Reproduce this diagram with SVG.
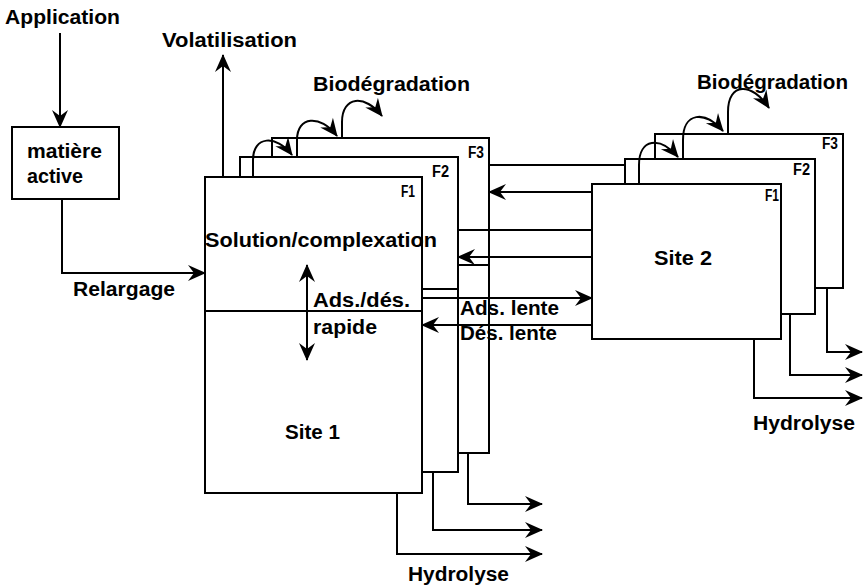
<svg xmlns="http://www.w3.org/2000/svg" width="863" height="588" viewBox="0 0 863 588">
<style>
  .box { fill: #fff; stroke: #000; stroke-width: 2; }
  .ln { fill: none; stroke: #000; stroke-width: 2; }
  .arr { fill: none; stroke: #000; stroke-width: 2; marker-end: url(#ah); }
  .dbl { fill: none; stroke: #000; stroke-width: 2; marker-start: url(#ahs); marker-end: url(#ah); }
  text { font-family: "Liberation Sans", Arial, sans-serif; font-weight: bold; fill: #000; }
  .t { font-size: 20px; }
  .f { font-size: 16px; }
</style>
<defs>
  <marker id="ah" markerUnits="userSpaceOnUse" markerWidth="22" markerHeight="20" viewBox="-20 -10 22 20" refX="0" refY="0" orient="auto">
    <path d="M1,0 L-17,-8 L-11,0 L-17,8 Z" fill="#000"/>
  </marker>
  <marker id="ahs" markerUnits="userSpaceOnUse" markerWidth="22" markerHeight="20" viewBox="-2 -10 22 20" refX="0" refY="0" orient="auto">
    <path d="M-1,0 L17,-8 L11,0 L17,8 Z" fill="#000"/>
  </marker>
</defs>
<rect width="863" height="588" fill="#fff"/>

<g id="application">
  <text class="t" x="5" y="24" textLength="115" lengthAdjust="spacingAndGlyphs">Application</text>
</g>
<g id="volatilisation">
  <text class="t" x="162" y="47" textLength="135" lengthAdjust="spacingAndGlyphs">Volatilisation</text>
</g>
<g id="matiere-active">
  <rect class="box" x="12" y="127" width="107" height="72"/>
  <text class="t" x="27" y="158" textLength="75" lengthAdjust="spacingAndGlyphs">matière</text>
  <text class="t" x="27" y="183" textLength="56" lengthAdjust="spacingAndGlyphs">active</text>
</g>

<g id="site1-F3">
  <rect class="box" x="272" y="138" width="217" height="315"/>
  <text class="f" x="468" y="158" textLength="16" lengthAdjust="spacingAndGlyphs">F3</text>
</g>
<g id="site1-F2">
  <rect class="box" x="240" y="157" width="218" height="315"/>
  <text class="f" x="432" y="177" textLength="17" lengthAdjust="spacingAndGlyphs">F2</text>
</g>
<g id="site1-F1">
  <rect class="box" x="205" y="177" width="217" height="316"/>
  <line class="ln" x1="205" y1="311" x2="422" y2="311"/>
  <text class="f" x="401" y="197" textLength="14" lengthAdjust="spacingAndGlyphs">F1</text>
  <text class="t" x="285" y="439" textLength="55" lengthAdjust="spacingAndGlyphs">Site 1</text>
</g>

<g id="site2-F3">
  <rect class="box" x="655" y="134" width="188" height="154"/>
  <text class="f" x="822" y="149" textLength="16" lengthAdjust="spacingAndGlyphs">F3</text>
</g>
<g id="site2-F2">
  <rect class="box" x="625" y="159" width="190" height="155"/>
  <text class="f" x="793" y="175" textLength="17" lengthAdjust="spacingAndGlyphs">F2</text>
</g>
<g id="site2-F1">
  <rect class="box" x="592" y="184" width="189" height="155"/>
  <text class="f" x="765" y="201" textLength="14" lengthAdjust="spacingAndGlyphs">F1</text>
  <text class="t" x="654" y="265" textLength="58" lengthAdjust="spacingAndGlyphs">Site 2</text>
</g>

<g id="connectors">
  <line class="arr" x1="60" y1="33" x2="60" y2="127"/>
  <polyline class="arr" points="62,199 62,273 205,273"/>
  <line class="arr" x1="223" y1="177" x2="223" y2="55"/>
  <line class="dbl" x1="307" y1="265" x2="307" y2="360"/>

  <line class="ln" x1="489" y1="165" x2="625" y2="165"/>
  <line class="arr" x1="592" y1="192" x2="489" y2="192"/>
  <line class="ln" x1="458" y1="230" x2="592" y2="230"/>
  <line class="arr" x1="592" y1="257" x2="458" y2="257"/>
  <line class="ln" x1="458" y1="265" x2="489" y2="265"/>
  <line class="ln" x1="422" y1="289" x2="458" y2="289"/>
  <line class="arr" x1="422" y1="298" x2="592" y2="298"/>
  <line class="arr" x1="592" y1="325" x2="422" y2="325"/>

  <polyline class="arr" points="397,493 397,554 542,554"/>
  <polyline class="arr" points="433,472 433,530 542,530"/>
  <polyline class="arr" points="468,453 468,504 542,504"/>
  <polyline class="arr" points="754,339 754,398 862,398"/>
  <polyline class="arr" points="790,314 790,375 862,375"/>
  <polyline class="arr" points="827,288 827,352 862,352"/>

  <path class="arr" d="M253,177 L253,160 C253,136 276,134 292,155"/>
  <path class="arr" d="M297,157 L297,140 C297,116 320,114 337,136"/>
  <path class="arr" d="M342,138 L342,122 C342,96 365,94 382,116"/>
  <path class="arr" d="M639,184 L639,165 C639,138 660,136 678,157"/>
  <path class="arr" d="M683,159 L683,140 C683,112 705,110 723,131"/>
  <path class="arr" d="M728,134 L728,112 C728,82 752,82 769,108"/>
</g>

<g id="labels">
  <text class="t" x="313" y="91" textLength="157" lengthAdjust="spacingAndGlyphs">Biodégradation</text>
  <text class="t" x="697" y="89" textLength="151" lengthAdjust="spacingAndGlyphs">Biodégradation</text>
  <text class="t" x="205" y="247" textLength="232" lengthAdjust="spacingAndGlyphs">Solution/complexation</text>
  <text class="t" x="73" y="296" textLength="102" lengthAdjust="spacingAndGlyphs">Relargage</text>
  <text class="t" x="313" y="307" textLength="97" lengthAdjust="spacingAndGlyphs">Ads./dés.</text>
  <text class="t" x="313" y="334" textLength="64" lengthAdjust="spacingAndGlyphs">rapide</text>
  <text class="t" x="460" y="315" textLength="99" lengthAdjust="spacingAndGlyphs">Ads. lente</text>
  <text class="t" x="460" y="340" textLength="97" lengthAdjust="spacingAndGlyphs">Dés. lente</text>
  <text class="t" x="408" y="581" textLength="101" lengthAdjust="spacingAndGlyphs">Hydrolyse</text>
  <text class="t" x="753" y="430" textLength="102" lengthAdjust="spacingAndGlyphs">Hydrolyse</text>
</g>
</svg>
